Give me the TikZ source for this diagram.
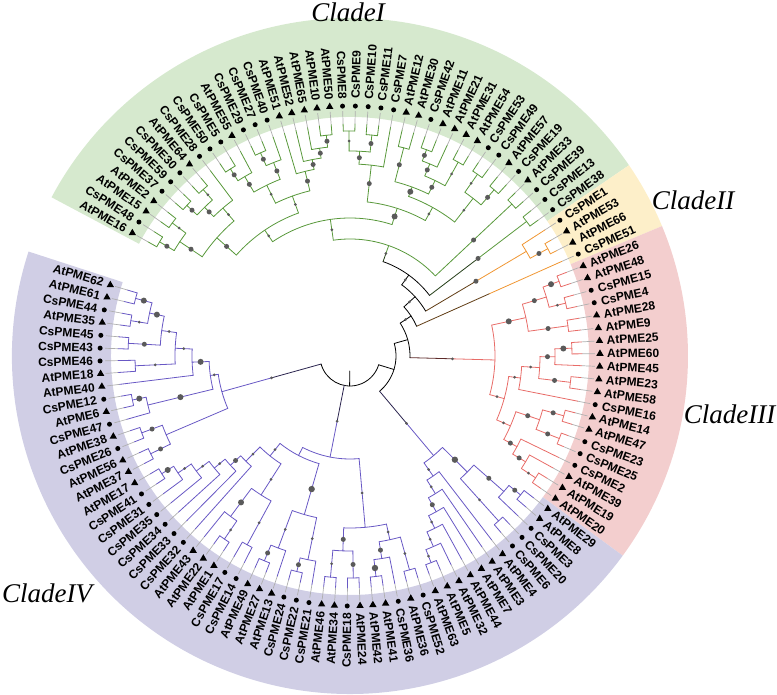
\documentclass[tikz,border=0pt]{standalone}
\usepackage{fontspec}
\setmainfont{Liberation Serif}
\newfontfamily\labfont{Liberation Sans}
\usetikzlibrary{shapes.geometric}

\definecolor{bandI}{RGB}{214,233,206}
\definecolor{bandII}{RGB}{253,239,201}
\definecolor{bandIII}{RGB}{243,206,206}
\definecolor{bandIV}{RGB}{208,206,229}
\definecolor{brI}{RGB}{88,152,58}
\definecolor{brII}{RGB}{240,150,50}
\definecolor{brIII}{RGB}{232,108,104}
\definecolor{brIV}{RGB}{104,88,196}
\definecolor{dotc}{RGB}{90,90,90}
\definecolor{extc}{RGB}{175,175,175}

\tikzset{
  branch/.style={line width=0.8pt, line cap=round},
  ext/.style={extc, line width=0.7pt},
  mka/.style={regular polygon, regular polygon sides=3, fill=black, inner sep=0pt, minimum size=8.5pt},
  mkc/.style={circle, fill=black, inner sep=0pt, minimum size=5pt},
  leaflab/.style={font=\labfont\bfseries\fontsize{12}{14}\selectfont, inner sep=0pt},
  cladelab/.style={font=\itshape\fontsize{27}{30}\selectfont, anchor=base, inner sep=0pt}
}

% angle, radius, colour and dot size of every tree node
\newcommand{\nodeset}[4]{%
  \expandafter\xdef\csname pa#1\endcsname{#2}%
  \expandafter\xdef\csname pr#1\endcsname{#3}%
  \expandafter\xdef\csname pc#1\endcsname{#4}}
\newcommand{\dotset}[2]{\expandafter\xdef\csname pd#1\endcsname{#2}}

% radial branch of a node down to the radius of its parent
\newcommand{\brstem}[3]{%
  \edef\stA{\csname pa#1\endcsname}%
  \edef\stR{\csname pr#1\endcsname}%
  \edef\stC{\csname pc#1\endcsname}%
  \edef\stD{\csname pd#1\endcsname}%
  \def\parcol{#3}%
  \pgfmathsetmacro\stM{(\stR+#2)/2}%
  \ifx\parcol\stC
    \draw[branch, color=\stC] (#1) -- (\stA:#2pt);
  \else
    \draw[branch, color=\stC] (#1) -- (\stA:\stM pt);
    \draw[branch, color=#3!60!\stC] (\stA:\stM pt) -- (\stA:#2pt);
  \fi
  \ifdim\stD pt>0pt \fill[dotc] (\stA:\stM pt) circle[radius=\stD pt];\fi}

% new node #1 joining #2 and #3 at radius #4, dot #5, colour #6
\newcommand{\joinpair}[6]{%
  \edef\jA{\csname pa#2\endcsname}%
  \edef\jB{\csname pa#3\endcsname}%
  \pgfmathsetmacro\jM{(\jA+\jB)/2}%
  \brstem{#2}{#4}{#6}%
  \brstem{#3}{#4}{#6}%
  \draw[branch, color=#6] (\jA:#4pt) arc[start angle=\jA, end angle=\jB, radius=#4pt];
  \coordinate (#1) at (\jM:#4pt);
  \nodeset{#1}{\jM}{#4}{#6}\dotset{#1}{#5}}

\begin{document}
\begin{tikzpicture}[x=1pt, y=1pt]
\useasboundingbox (-350,-339) rectangle (427,356);

% clade bands
\fill[bandI] (152:239pt) arc[start angle=152, end angle=34.36, radius=239pt]
  -- (34.36:338pt) arc[start angle=34.36, end angle=152, radius=338pt] -- cycle;
\fill[bandII] (34.36:239pt) arc[start angle=34.36, end angle=22.6, radius=239pt]
  -- (22.6:338pt) arc[start angle=22.6, end angle=34.36, radius=338pt] -- cycle;
\fill[bandIII] (22.6:239pt) arc[start angle=22.6, end angle=-36.2, radius=239pt]
  -- (-36.2:338pt) arc[start angle=-36.2, end angle=22.6, radius=338pt] -- cycle;
\fill[bandIV] (-36.2:239pt) arc[start angle=-36.2, end angle=-198, radius=239pt]
  -- (-198:338pt) arc[start angle=-198, end angle=-36.2, radius=338pt] -- cycle;

\node[cladelab] (cladeI) at (-2,334.5) {CladeI};
\node[cladelab] (cladeII) at (343,146) {CladeII};
\node[cladelab] (cladeIII) at (379.5,-67.3) {CladeIII};
\node[cladelab] (cladeIV) at (-303,-246.7) {CladeIV};

% leaves
\foreach \i/\nm/\mk in {0/AtPME16/a, 1/CsPME48/c, 2/AtPME15/a, 3/AtPME2/a, 4/CsPME37/c,
  5/CsPME59/c, 6/CsPME30/c, 7/AtPME64/a, 8/CsPME28/c, 9/CsPME50/c, 10/CsPME5/c,
  11/AtPME55/a, 12/CsPME29/c, 13/CsPME27/c, 14/CsPME40/c, 15/AtPME51/a, 16/AtPME52/a,
  17/AtPME65/a, 18/AtPME10/a, 19/AtPME50/a, 20/CsPME8/c, 21/CsPME9/c, 22/CsPME10/c,
  23/CsPME11/c, 24/CsPME7/c, 25/AtPME12/a, 26/AtPME30/a, 27/CsPME42/c, 28/AtPME11/a,
  29/AtPME21/a, 30/AtPME31/a, 31/AtPME54/a, 32/CsPME53/c, 33/CsPME49/c, 34/AtPME57/a,
  35/CsPME19/c, 36/AtPME33/a, 37/CsPME39/c, 38/CsPME13/c, 39/CsPME38/c,
  40/CsPME1/c, 41/AtPME53/a, 42/AtPME66/a, 43/CsPME51/c,
  44/AtPME26/a, 45/AtPME48/a, 46/CsPME15/c, 47/CsPME4/c, 48/AtPME28/a, 49/AtPME9/a,
  50/AtPME25/a, 51/AtPME60/a, 52/AtPME45/a, 53/AtPME23/a, 54/AtPME58/a, 55/CsPME16/c,
  56/AtPME14/a, 57/AtPME47/a, 58/CsPME23/c, 59/CsPME25/c, 60/CsPME2/c, 61/AtPME39/a,
  62/AtPME19/a, 63/AtPME20/a,
  64/AtPME29/a, 65/AtPME8/a, 66/CsPME3/c, 67/CsPME20/c, 68/CsPME6/c, 69/AtPME4/a,
  70/AtPME3/a, 71/AtPME7/a, 72/AtPME44/a, 73/AtPME32/a, 74/AtPME5/a, 75/AtPME63/a,
  76/CsPME52/c, 77/AtPME36/a, 78/CsPME36/c, 79/AtPME41/a, 80/AtPME42/a, 81/AtPME24/a,
  82/CsPME18/c, 83/AtPME34/a, 84/AtPME46/a, 85/CsPME21/c, 86/CsPME22/c, 87/CsPME24/c,
  88/AtPME13/a, 89/AtPME27/a, 90/AtPME49/a, 91/CsPME14/c, 92/CsPME17/c, 93/AtPME1/a,
  94/AtPME22/a, 95/AtPME43/a, 96/CsPME32/c, 97/CsPME33/c, 98/CsPME34/c, 99/CsPME35/c,
  100/CsPME31/c, 101/CsPME41/c, 102/AtPME17/a, 103/AtPME37/a, 104/AtPME56/a,
  105/CsPME26/c, 106/AtPME38/a, 107/CsPME47/c, 108/AtPME6/a, 109/CsPME12/c,
  110/AtPME40/a, 111/AtPME18/a, 112/CsPME46/c, 113/CsPME43/c, 114/CsPME45/c,
  115/AtPME35/a, 116/CsPME44/c, 117/AtPME61/a, 118/AtPME62/a}{
  \pgfmathsetmacro\la{152-(\i+0.5)*2.941}
  \ifnum\i<40 \def\lc{brI}\else\ifnum\i<44 \def\lc{brII}\else\ifnum\i<64 \def\lc{brIII}\else\def\lc{brIV}\fi\fi\fi
  \coordinate (\nm) at (\la:232pt);
  \nodeset{\nm}{\la}{232}{\lc}\dotset{\nm}{0}
  \draw[ext] (\nm) -- (\la:245pt);
  \node[mk\mk] (mk\nm) at (\la:250pt) {};
  \pgfmathsetmacro\lcos{cos(\la)}
  \ifdim\lcos pt<0pt
    \pgfmathsetmacro\lrot{\la+180}
    \node[leaflab, anchor=east, rotate=\lrot] (lab\nm) at (\la:257pt) {\nm};
  \else
    \node[leaflab, anchor=west, rotate=\la] (lab\nm) at (\la:257pt) {\nm};
  \fi
}

% clade I
\joinpair{c1}{AtPME16}{CsPME48}{222}{2.5}{brI}
\joinpair{c2}{AtPME15}{AtPME2}{222}{1.5}{brI}
\joinpair{c3}{c1}{c2}{205}{2.5}{brI}
\joinpair{c4}{CsPME37}{CsPME59}{222}{2.5}{brI}
\joinpair{c5}{CsPME30}{AtPME64}{222}{1.5}{brI}
\joinpair{c6}{c4}{c5}{208}{2.5}{brI}
\joinpair{c7}{c6}{CsPME28}{195}{1.5}{brI}
\joinpair{c8}{c3}{c7}{178}{2.5}{brI}
\joinpair{d1}{CsPME50}{CsPME5}{222}{2.5}{brI}
\joinpair{d2}{d1}{AtPME55}{208}{2.5}{brI}
\joinpair{d3}{CsPME29}{CsPME27}{222}{2.5}{brI}
\joinpair{d4}{d3}{CsPME40}{208}{2.5}{brI}
\joinpair{d5}{d2}{d4}{190}{1.5}{brI}
\joinpair{d6}{AtPME10}{AtPME50}{222}{2.5}{brI}
\joinpair{d7}{AtPME65}{d6}{210}{2.5}{brI}
\joinpair{d8}{AtPME52}{d7}{200}{2.5}{brI}
\joinpair{d9}{AtPME51}{d8}{190}{2.5}{brI}
\joinpair{d10}{d5}{d9}{170}{1.5}{brI}
\joinpair{c9}{c8}{d10}{152}{1.5}{brI}
\joinpair{e1}{CsPME8}{CsPME9}{225}{1.5}{brI}
\joinpair{e2}{CsPME10}{CsPME11}{222}{2.5}{brI}
\joinpair{e3}{e1}{e2}{205}{2.5}{brI}
\joinpair{e4}{e3}{CsPME7}{192}{2.5}{brI}
\joinpair{e5}{AtPME12}{AtPME30}{215}{2.5}{brI}
\joinpair{e6}{CsPME42}{AtPME11}{220}{2.5}{brI}
\joinpair{e7}{e6}{AtPME21}{208}{2.5}{brI}
\joinpair{e8}{AtPME31}{AtPME54}{222}{1.5}{brI}
\joinpair{e9}{e7}{e8}{195}{2.5}{brI}
\joinpair{e10}{e5}{e9}{180}{3}{brI}
\joinpair{e11}{CsPME53}{CsPME49}{222}{1.5}{brI}
\joinpair{e12}{AtPME57}{CsPME19}{220}{2.5}{brI}
\joinpair{e13}{e11}{e12}{200}{1.5}{brI}
\joinpair{e14}{e10}{e13}{170}{1.5}{brI}
\joinpair{e15}{e4}{e14}{155}{3}{brI}
\joinpair{q}{c9}{e15}{138}{1.5}{brI}
\joinpair{s2}{AtPME33}{CsPME39}{222}{2.5}{brI}
\joinpair{n6}{q}{s2}{117}{1.5}{brI}
\joinpair{s1}{CsPME13}{CsPME38}{222}{2.5}{brI}
\joinpair{n5}{n6}{s1}{100}{1.5}{black}

% clade II
\joinpair{t1}{AtPME53}{AtPME66}{225}{2.5}{brII}
\joinpair{t2}{CsPME1}{t1}{205}{2.5}{brII}
\joinpair{n4}{n5}{t2}{88}{1.5}{black}
\joinpair{n3}{n4}{CsPME51}{73}{1.5}{black}

% clade III
\joinpair{w1}{AtPME26}{AtPME48}{222}{3}{brIII}
\joinpair{w2}{CsPME15}{CsPME4}{222}{1.5}{brIII}
\joinpair{w3}{w1}{w2}{205}{2.5}{brIII}
\joinpair{w4}{AtPME28}{AtPME9}{220}{2.5}{brIII}
\joinpair{w5}{w3}{w4}{180}{3}{brIII}
\joinpair{g1}{AtPME25}{AtPME60}{222}{3}{brIII}
\joinpair{g2}{g1}{AtPME45}{205}{2.5}{brIII}
\joinpair{g3}{AtPME23}{AtPME58}{222}{2.5}{brIII}
\joinpair{g4}{g2}{g3}{190}{1.5}{brIII}
\joinpair{g5}{g4}{CsPME16}{172}{1.5}{brIII}
\joinpair{k1}{AtPME14}{AtPME47}{222}{2.5}{brIII}
\joinpair{k2}{CsPME23}{CsPME25}{225}{2.5}{brIII}
\joinpair{k3}{k1}{k2}{200}{2.5}{brIII}
\joinpair{h1}{AtPME19}{AtPME20}{222}{1.5}{brIII}
\joinpair{h2}{AtPME39}{h1}{205}{2.5}{brIII}
\joinpair{h3}{CsPME2}{h2}{190}{2.5}{brIII}
\joinpair{g6}{k3}{h3}{175}{1.5}{brIII}
\joinpair{g7}{g5}{g6}{160}{1.5}{brIII}
\joinpair{cIII}{w5}{g7}{145}{1.5}{brIII}
\joinpair{n2}{cIII}{n3}{60}{0}{black}

% clade IV, lower right
\joinpair{r1}{AtPME29}{AtPME8}{220}{2.5}{brIV}
\joinpair{r2}{r1}{CsPME3}{205}{2.5}{brIV}
\joinpair{r3}{CsPME20}{CsPME6}{222}{1.5}{brIV}
\joinpair{r4}{r2}{r3}{165}{3.2}{brIV}
\joinpair{l1}{AtPME5}{AtPME63}{222}{1.5}{brIV}
\joinpair{l2}{AtPME32}{l1}{208}{1.5}{brIV}
\joinpair{l3}{AtPME44}{l2}{192}{1.5}{brIV}
\joinpair{l4}{AtPME7}{l3}{178}{2.5}{brIV}
\joinpair{l5}{AtPME3}{l4}{162}{1.5}{brIV}
\joinpair{l6}{AtPME4}{l5}{146}{1.5}{brIV}
\joinpair{cc}{r4}{l6}{130}{1.5}{brIV}
\joinpair{n1}{cc}{n2}{46}{0}{black}

% clade IV, bottom
\joinpair{p1}{AtPME24}{CsPME18}{222}{2.5}{brIV}
\joinpair{p2}{AtPME34}{AtPME46}{222}{1.5}{brIV}
\joinpair{p3}{p1}{p2}{195}{2.5}{brIV}
\joinpair{o1}{AtPME41}{AtPME42}{222}{3.2}{brIV}
\joinpair{o2}{CsPME36}{o1}{205}{2.5}{brIV}
\joinpair{o3}{CsPME52}{AtPME36}{222}{1.5}{brIV}
\joinpair{o4}{o3}{o2}{188}{1.5}{brIV}
\joinpair{b2}{o4}{p3}{172}{1.5}{brIV}
\joinpair{f1}{CsPME22}{CsPME24}{222}{2.5}{brIV}
\joinpair{f2}{CsPME21}{f1}{208}{1.5}{brIV}
\joinpair{f3}{AtPME27}{AtPME49}{222}{2.5}{brIV}
\joinpair{f4}{AtPME13}{f3}{205}{1.5}{brIV}
\joinpair{f5}{f2}{f4}{165}{3.2}{brIV}
\joinpair{u1}{CsPME41}{AtPME17}{222}{3}{brIV}
\joinpair{u2}{CsPME31}{u1}{208}{1.5}{brIV}
\joinpair{u3}{CsPME35}{u2}{192}{1.5}{brIV}
\joinpair{u4}{CsPME34}{u3}{176}{1.5}{brIV}
\joinpair{u5}{CsPME33}{u4}{162}{2.5}{brIV}
\joinpair{u6}{CsPME32}{u5}{148}{1.5}{brIV}
\joinpair{v1}{AtPME1}{AtPME22}{222}{1.5}{brIV}
\joinpair{v2}{v1}{AtPME43}{200}{3}{brIV}
\joinpair{v3}{CsPME14}{CsPME17}{215}{1.5}{brIV}
\joinpair{v4}{v3}{v2}{165}{1.5}{brIV}
\joinpair{u7}{v4}{u6}{128}{1.5}{brIV}
\joinpair{b1}{f5}{u7}{112}{0}{brIV}
\joinpair{b}{b1}{b2}{103}{1.5}{brIV}

% clade IV, left
\joinpair{a1}{AtPME61}{AtPME62}{222}{3}{brIV}
\joinpair{a2}{AtPME35}{CsPME44}{222}{1.5}{brIV}
\joinpair{a3}{a2}{a1}{205}{3}{brIV}
\joinpair{a4}{CsPME43}{CsPME45}{222}{2.5}{brIV}
\joinpair{a5}{a4}{a3}{190}{1.5}{brIV}
\joinpair{a6}{AtPME18}{CsPME46}{215}{1.5}{brIV}
\joinpair{a7}{a6}{a5}{175}{1.5}{brIV}
\joinpair{a8}{AtPME40}{a7}{158}{3}{brIV}
\joinpair{a9}{AtPME6}{CsPME12}{222}{3}{brIV}
\joinpair{a10}{CsPME47}{a9}{208}{3}{brIV}
\joinpair{a11}{a10}{a8}{141}{1.5}{brIV}
\joinpair{a12}{CsPME26}{AtPME38}{222}{2.5}{brIV}
\joinpair{a13}{AtPME37}{AtPME56}{222}{2.5}{brIV}
\joinpair{a14}{a13}{a12}{200}{0}{brIV}
\joinpair{aa}{a14}{a11}{133}{1.5}{brIV}

% root
\joinpair{root}{aa}{n1}{30}{0}{black}
\brstem{b}{30}{black}
\edef\rootA{\csname paroot\endcsname}
\draw[branch] (root) -- (\rootA:15pt);
\end{tikzpicture}
\end{document}
